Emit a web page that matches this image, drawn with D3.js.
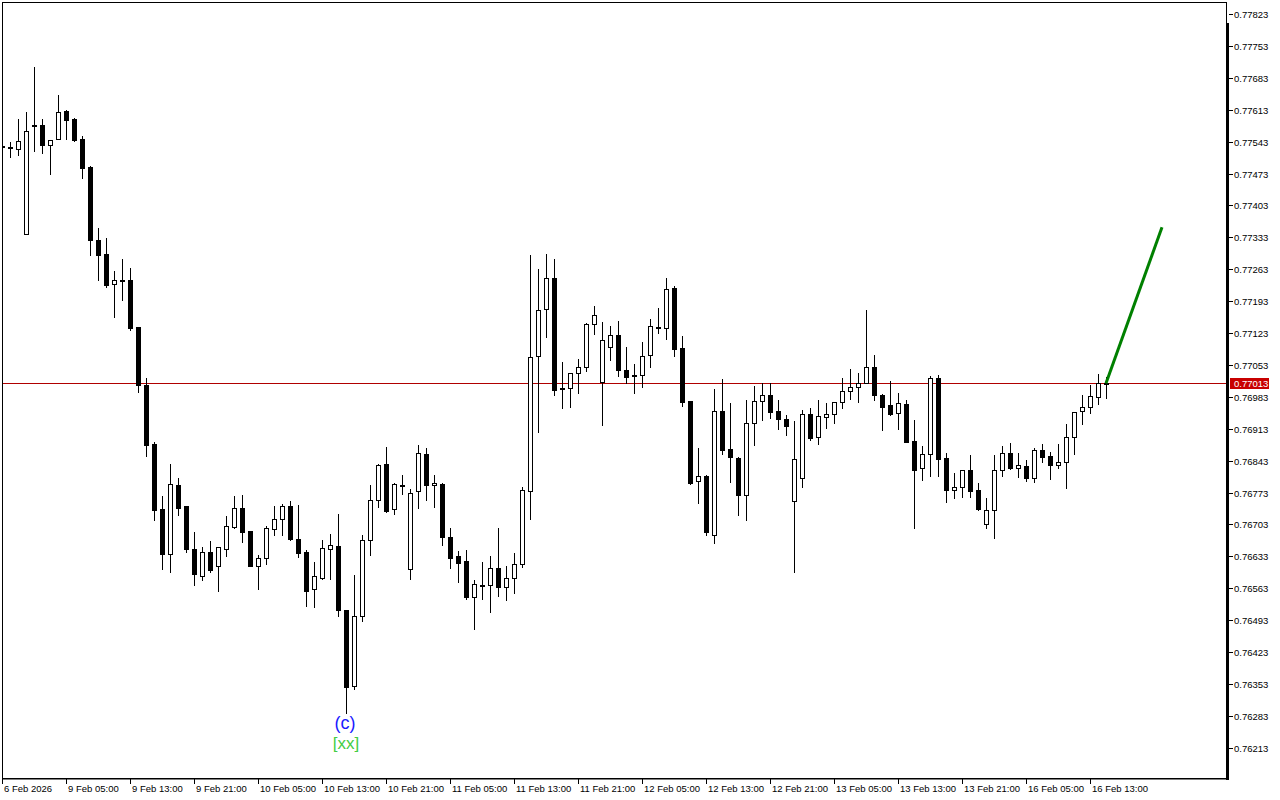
<!DOCTYPE html>
<html><head><meta charset="utf-8">
<script src="https://cdn.jsdelivr.net/npm/d3@7"></script>
<style>body{margin:0;background:#fff}svg{display:block}text{font-family:"Liberation Sans",Arial,sans-serif}</style>
</head><body><svg id="c" width="1280" height="800"></svg>
<script>
const opens=[0.77533,0.77532,0.77526,0.77341,0.77579,0.77579,0.77535,0.77548,0.77610,0.77593,0.77549,0.77487,0.77327,0.77296,0.77230,0.77240,0.77239,0.77136,0.77009,0.76880,0.76737,0.76639,0.76790,0.76744,0.76649,0.76591,0.76642,0.76613,0.76650,0.76698,0.76739,0.76689,0.76613,0.76629,0.76692,0.76716,0.76743,0.76671,0.76643,0.76561,0.76586,0.76649,0.76656,0.76515,0.76348,0.76502,0.76670,0.76756,0.76836,0.76736,0.76790,0.76605,0.76776,0.76857,0.76789,0.76792,0.76676,0.76634,0.76622,0.76543,0.76571,0.76570,0.76607,0.76566,0.76585,0.76616,0.76776,0.77073,0.77176,0.77243,0.77002,0.77002,0.77035,0.77049,0.77142,0.77016,0.77093,0.77118,0.77043,0.77030,0.77030,0.77074,0.77136,0.77135,0.77221,0.77090,0.76975,0.76798,0.76809,0.76681,0.76953,0.76868,0.76849,0.76767,0.76925,0.76973,0.76986,0.76951,0.76934,0.76754,0.76804,0.76945,0.76896,0.76938,0.76945,0.76971,0.76995,0.77004,0.77013,0.77048,0.76986,0.76965,0.76947,0.76967,0.76886,0.76826,0.76857,0.77024,0.76848,0.76778,0.76786,0.76822,0.76778,0.76703,0.76734,0.76822,0.76859,0.76828,0.76831,0.76804,0.76866,0.76853,0.76833,0.76841,0.76896,0.76953,0.76960,0.76982,0.77013];
const highs=[0.77538,0.77542,0.77593,0.77608,0.77707,0.77593,0.77546,0.77645,0.77612,0.77594,0.77555,0.77490,0.77354,0.77332,0.77259,0.77286,0.77266,0.77136,0.77024,0.76883,0.76765,0.76836,0.76805,0.76744,0.76687,0.76654,0.76667,0.76654,0.76722,0.76765,0.76768,0.76689,0.76636,0.76700,0.76744,0.76748,0.76755,0.76746,0.76647,0.76621,0.76669,0.76682,0.76726,0.76515,0.76592,0.76680,0.76790,0.76836,0.76873,0.76793,0.76812,0.76781,0.76877,0.76870,0.76812,0.76793,0.76695,0.76645,0.76647,0.76581,0.76620,0.76634,0.76695,0.76612,0.76640,0.76785,0.77294,0.77264,0.77296,0.77286,0.77060,0.77035,0.77066,0.77145,0.77182,0.77147,0.77138,0.77149,0.77092,0.77055,0.77103,0.77154,0.77178,0.77244,0.77226,0.77117,0.76975,0.76870,0.76812,0.77000,0.77022,0.76970,0.76851,0.76976,0.77007,0.77013,0.77013,0.76976,0.76943,0.76930,0.76954,0.76958,0.76976,0.76970,0.76971,0.77024,0.77044,0.77035,0.77174,0.77075,0.76989,0.77018,0.76992,0.76976,0.76932,0.76875,0.77029,0.77031,0.76859,0.76816,0.76822,0.76855,0.76794,0.76761,0.76855,0.76875,0.76881,0.76859,0.76844,0.76870,0.76880,0.76861,0.76880,0.76923,0.76949,0.76987,0.77009,0.77033,0.77027];
const lows=[0.77529,0.77509,0.77514,0.77340,0.77523,0.77519,0.77472,0.77548,0.77549,0.77545,0.77464,0.77295,0.77239,0.77225,0.77159,0.77196,0.77130,0.76994,0.76854,0.76713,0.76605,0.76599,0.76724,0.76643,0.76570,0.76581,0.76599,0.76557,0.76634,0.76695,0.76665,0.76613,0.76561,0.76616,0.76681,0.76681,0.76669,0.76632,0.76525,0.76523,0.76584,0.76584,0.76503,0.76289,0.76341,0.76492,0.76637,0.76742,0.76731,0.76727,0.76769,0.76584,0.76740,0.76757,0.76742,0.76658,0.76608,0.76577,0.76539,0.76474,0.76540,0.76512,0.76547,0.76538,0.76553,0.76609,0.76716,0.76906,0.77114,0.76988,0.76959,0.76961,0.76992,0.77040,0.77122,0.76922,0.77064,0.77029,0.77013,0.76992,0.77005,0.77049,0.77124,0.77109,0.77073,0.76964,0.76792,0.76751,0.76681,0.76663,0.76858,0.76797,0.76724,0.76713,0.76878,0.76933,0.76937,0.76913,0.76900,0.76599,0.76786,0.76889,0.76880,0.76915,0.76926,0.76959,0.76979,0.76972,0.77013,0.76977,0.76911,0.76944,0.76913,0.76885,0.76696,0.76801,0.76810,0.76810,0.76753,0.76762,0.76764,0.76764,0.76735,0.76696,0.76674,0.76810,0.76825,0.76808,0.76799,0.76797,0.76839,0.76803,0.76828,0.76784,0.76858,0.76924,0.76948,0.76968,0.76981];
const closes=[0.77533,0.77532,0.77544,0.77566,0.77579,0.77536,0.77546,0.77607,0.77591,0.77546,0.77486,0.77328,0.77295,0.77228,0.77239,0.77240,0.77135,0.77009,0.76877,0.76735,0.76638,0.76792,0.76740,0.76649,0.76594,0.76642,0.76603,0.76653,0.76699,0.76739,0.76687,0.76613,0.76629,0.76695,0.76714,0.76743,0.76671,0.76641,0.76558,0.76589,0.76651,0.76657,0.76516,0.76346,0.76502,0.76668,0.76756,0.76833,0.76733,0.76792,0.76790,0.76771,0.76859,0.76790,0.76793,0.76675,0.76630,0.76619,0.76545,0.76572,0.76571,0.76607,0.76566,0.76585,0.76616,0.76779,0.77070,0.77173,0.77243,0.76999,0.77002,0.77035,0.77048,0.77142,0.77162,0.77107,0.77118,0.77043,0.77027,0.77030,0.77072,0.77138,0.77136,0.77219,0.77087,0.76972,0.76795,0.76809,0.76686,0.76951,0.76867,0.76850,0.76768,0.76925,0.76973,0.76986,0.76949,0.76935,0.76920,0.76846,0.76945,0.76893,0.76941,0.76945,0.76971,0.76995,0.77004,0.77013,0.77048,0.76986,0.76961,0.76946,0.76969,0.76885,0.76823,0.76857,0.77024,0.76847,0.76779,0.76785,0.76822,0.76777,0.76737,0.76734,0.76822,0.76859,0.76828,0.76833,0.76804,0.76866,0.76852,0.76833,0.76839,0.76894,0.76949,0.76961,0.76984,0.77013,0.77013];
const priceTicks=[0.77823,0.77753,0.77683,0.77613,0.77543,0.77473,0.77403,0.77333,0.77263,0.77193,0.77123,0.77053,0.76983,0.76913,0.76843,0.76773,0.76703,0.76633,0.76563,0.76493,0.76423,0.76353,0.76283,0.76213];
const timeLabels=["6 Feb 2026","9 Feb 05:00","9 Feb 13:00","9 Feb 21:00","10 Feb 05:00","10 Feb 13:00","10 Feb 21:00","11 Feb 05:00","11 Feb 13:00","11 Feb 21:00","12 Feb 05:00","12 Feb 13:00","12 Feb 21:00","13 Feb 05:00","13 Feb 13:00","13 Feb 21:00","16 Feb 05:00","16 Feb 13:00"];
const timeLabelBars=[0,8,16,24,32,40,48,56,64,72,80,88,96,104,112,120,128,136];
const currentPrice=0.77013;
const projBars=[138,145];
const projPrices=[0.77013,0.77355];
const waveLabelBar=43;
const waveLabels=["(c)","[xx]"];

const svg=d3.select('#c');
const L=2,R=1226,T=2,B=778;
const x=d3.scaleLinear().domain([0,153]).range([L,R]);
const y=d3.scaleLinear().domain([0.761468,0.778493]).range([B,T]);

svg.append('defs').append('clipPath').attr('id','clip').append('rect')
  .attr('x',L+1).attr('y',T).attr('width',R-L-1).attr('height',B-T);

const data=opens.map((o,i)=>({i,o,h:highs[i],l:lows[i],c:closes[i]}));
const plot=svg.append('g').attr('clip-path','url(#clip)');

// price line
const py=Math.round(y(currentPrice))+0.5;
plot.append('line').attr('x1',L).attr('x2',R).attr('y1',py).attr('y2',py)
  .attr('stroke','#b00000').attr('stroke-width',1);

const cg=plot.selectAll('g.cd').data(data).join('g').attr('class','cd');
cg.append('line')
  .attr('x1',d=>Math.round(x(d.i))+0.5).attr('x2',d=>Math.round(x(d.i))+0.5)
  .attr('y1',d=>Math.round(y(d.h))).attr('y2',d=>Math.round(y(d.l))+1)
  .attr('stroke','#000').attr('stroke-width',1);
cg.filter(d=>Math.round(y(d.o))!==Math.round(y(d.c))).append('rect')
  .attr('x',d=>Math.round(x(d.i))-2+0.5)
  .attr('y',d=>Math.min(Math.round(y(d.o)),Math.round(y(d.c)))+0.5)
  .attr('width',4)
  .attr('height',d=>Math.abs(Math.round(y(d.o))-Math.round(y(d.c))))
  .attr('fill',d=>d.c>d.o?'#fff':'#000').attr('stroke','#000').attr('stroke-width',1);
cg.filter(d=>Math.round(y(d.o))===Math.round(y(d.c))).append('rect')
  .attr('x',d=>Math.round(x(d.i))-2)
  .attr('y',d=>Math.round(y(d.o)))
  .attr('width',5).attr('height',2).attr('fill','#000');

// projection line
const pl=d3.line().x(d=>x(d[0])).y(d=>y(d[1]));
plot.append('path').attr('d',pl(projBars.map((b,k)=>[b,projPrices[k]])))
  .attr('stroke','#008000').attr('stroke-width',3).attr('fill','none');

// wave labels
const wx=x(waveLabelBar);
const wy=y(lows[waveLabelBar]);
svg.append('text').attr('x',wx-1).attr('y',wy+16).attr('text-anchor','middle')
  .attr('font-size',18).attr('fill','#1a1aff').text(waveLabels[0]);
svg.append('text').attr('x',wx).attr('y',wy+36).attr('text-anchor','middle')
  .attr('font-size',17).attr('fill','#44cc44').text(waveLabels[1]);

// frame
svg.append('line').attr('x1',L).attr('x2',R+1).attr('y1',T+0.5).attr('y2',T+0.5).attr('stroke','#000');
svg.append('line').attr('x1',L+0.5).attr('x2',L+0.5).attr('y1',T).attr('y2',B+1).attr('stroke','#000');
svg.append('line').attr('x1',L).attr('x2',R+2).attr('y1',B+0.75).attr('y2',B+0.75).attr('stroke','#000').attr('stroke-width',1.5);
svg.append('line').attr('x1',R+0.5).attr('x2',R+0.5).attr('y1',T).attr('y2',24).attr('stroke','#000');
svg.append('rect').attr('x',R).attr('y',23).attr('width',3).attr('height',B+2-23).attr('fill','#000');

// right axis
const ya=svg.append('g');
ya.selectAll('line').data(priceTicks).join('line')
  .attr('x1',R+3).attr('x2',R+7)
  .attr('y1',d=>Math.round(y(d))+0.5).attr('y2',d=>Math.round(y(d))+0.5).attr('stroke','#000');
ya.selectAll('text').data(priceTicks).join('text')
  .attr('x',R+8).attr('y',d=>Math.round(y(d))+4)
  .attr('font-size',9.5).attr('fill','#000').text(d=>d.toFixed(5));

// current price label
svg.append('rect').attr('x',R+4).attr('y',Math.round(y(currentPrice))-5).attr('width',39).attr('height',11).attr('fill','#c80000');
svg.append('text').attr('x',R+8).attr('y',Math.round(y(currentPrice))+4)
  .attr('font-size',9.5).attr('fill','#fff').text(currentPrice.toFixed(5));

// bottom axis
const xa=svg.append('g');
xa.selectAll('line').data(timeLabelBars).join('line')
  .attr('x1',d=>Math.round(x(d))+0.5).attr('x2',d=>Math.round(x(d))+0.5)
  .attr('y1',B+1).attr('y2',B+6).attr('stroke','#000');
xa.selectAll('text').data(timeLabels).join('text')
  .attr('x',(d,k)=>Math.round(x(timeLabelBars[k]))+2).attr('y',B+14)
  .attr('font-size',9.5).attr('fill','#000').text(d=>d);
</script></body></html>
